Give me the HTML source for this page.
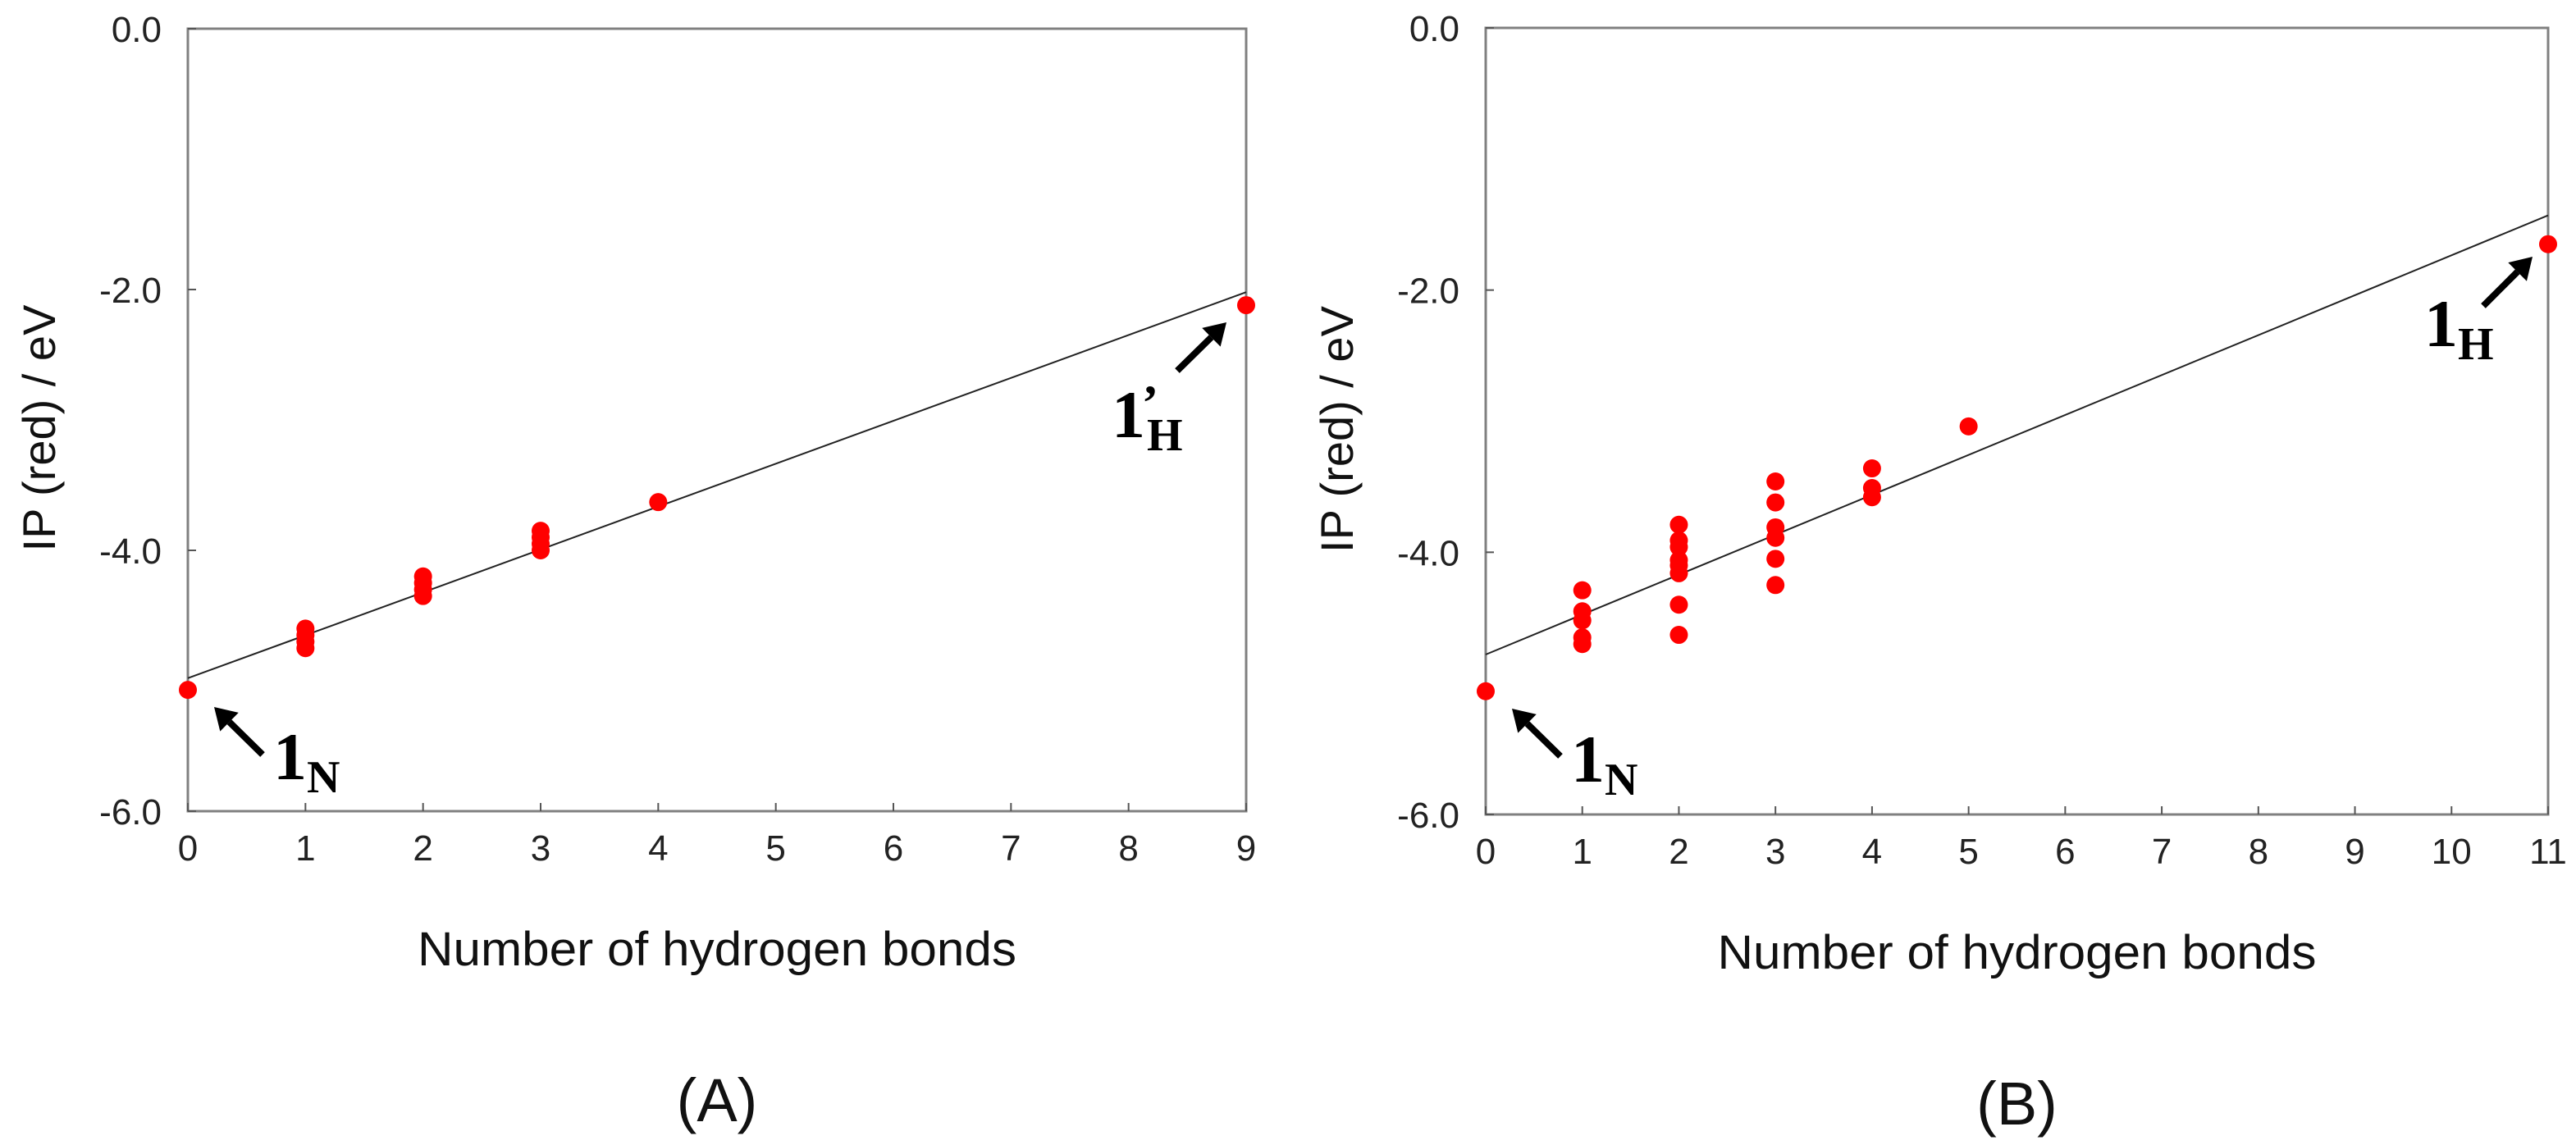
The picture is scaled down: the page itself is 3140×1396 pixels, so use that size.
<!DOCTYPE html>
<html><head><meta charset="utf-8">
<style>
html,body{margin:0;padding:0;background:#fff;}
svg{display:block;}
text{font-family:"Liberation Sans",sans-serif;}
.ser{font-family:"Liberation Serif",serif;font-weight:bold;}
</style></head>
<body>
<svg id="fig" width="3140" height="1396" viewBox="0 0 3140 1396" xmlns="http://www.w3.org/2000/svg"></svg>
<script>
// Panel A data
const aXTicks = [0,1,2,3,4,5,6,7,8,9];
const aYTicks = [0,-2,-4,-6];
const aYTickLabels = ["0.0","-2.0","-4.0","-6.0"];
const aX = [0,1,1,1,1,2,2,2,2,3,3,3,3,4,9];
const aY = [-5.07,-4.6,-4.65,-4.7,-4.75,-4.2,-4.25,-4.3,-4.35,-3.85,-3.9,-3.95,-4.0,-3.63,-2.12];
const aFitX = [0,9];
const aFitY = [-4.98,-2.02];
// Panel B data
const bXTicks = [0,1,2,3,4,5,6,7,8,9,10,11];
const bYTicks = [0,-2,-4,-6];
const bYTickLabels = ["0.0","-2.0","-4.0","-6.0"];
const bX = [0,1,1,1,1,1,2,2,2,2,2,2,2,2,3,3,3,3,3,3,4,4,4,5,11];
const bY = [-5.06,-4.29,-4.45,-4.52,-4.65,-4.7,-3.79,-3.91,-3.96,-4.06,-4.1,-4.16,-4.4,-4.63,-3.46,-3.62,-3.81,-3.89,-4.05,-4.25,-3.36,-3.51,-3.58,-3.04,-1.65];
const bFitX = [0,11];
const bFitY = [-4.78,-1.43];

const NS="http://www.w3.org/2000/svg";
const svg=document.getElementById('fig');
function mk(tag,attrs,parent,txt){const e=document.createElementNS(NS,tag);for(const k in attrs)e.setAttribute(k,attrs[k]);if(txt!==undefined)e.textContent=txt;(parent||svg).appendChild(e);return e;}

function panel(p){
  const g=mk('g',{});
  
  
  const sx=v=>p.x0+(v-p.xmin)/(p.xmax-p.xmin)*(p.x1-p.x0);
  const sy=v=>p.y0+(v-p.ymax)/(p.ymin-p.ymax)*(p.y1-p.y0);
  // frame
  const fr=mk('rect',{x:p.x0,y:p.y0,width:p.x1-p.x0,height:p.y1-p.y0,fill:'none',stroke:'#808080','stroke-width':3},g);
  
  
  // x ticks
  p.xt.forEach(v=>{
    const t=mk('line',{x1:sx(v),x2:sx(v),y1:p.y1,y2:p.y1-10,stroke:'#555','stroke-width':2},g);
    
    
    const l=mk('text',{x:sx(v),y:p.y1+60,'font-size':44,'text-anchor':'middle',fill:'#222'},g,String(v));
    
    
  });
  p.yt.forEach((v,i)=>{
    const t=mk('line',{x1:p.x0,x2:p.x0+10,y1:sy(v),y2:sy(v),stroke:'#555','stroke-width':2},g);
    
    
    const l=mk('text',{x:p.x0-32,y:sy(v)+16,'font-size':44,'text-anchor':'end',fill:'#222'},g,p.ytl[i]);
    
    
  });
  // fit line
  const fl=mk('line',{x1:sx(p.fx[0]),y1:sy(p.fy[0]),x2:sx(p.fx[1]),y2:sy(p.fy[1]),stroke:'#222','stroke-width':2},g);
  
  
  // points
  p.px.forEach((v,i)=>{
    const c=mk('circle',{cx:sx(v),cy:sy(p.py[i]),r:11,fill:'#f00'},g);
    
    
  });
  const xt=mk('text',{x:(p.x0+p.x1)/2,y:p.y1+188,'font-size':58,'text-anchor':'middle',fill:'#111',textLength:730,lengthAdjust:'spacingAndGlyphs'},g,'Number of hydrogen bonds');
  
  
  const yt=mk('text',{x:0,y:0,'font-size':56,'text-anchor':'middle',fill:'#111',transform:`translate(${p.x0-162},${(p.y0+p.y1)/2+10}) rotate(-90)`},g,'IP (red) / eV');
  
  
  const pl=mk('text',{x:(p.x0+p.x1)/2,y:p.y1+378,'font-size':74,'text-anchor':'middle',fill:'#111'},g,p.label);
  
  
  return {sx,sy,g};
}
function arrow(g,x1,y1,x2,y2){
  const dx=x2-x1,dy=y2-y1,L=Math.hypot(dx,dy),ux=dx/L,uy=dy/L;
  const hx=x2-ux*26,hy=y2-uy*26;
  const ln=mk('line',{x1:x1,y1:y1,x2:hx,y2:hy,stroke:'#000','stroke-width':8},g);
  
  
  const hd=mk('polygon',{points:`${x2},${y2} ${hx-uy*16},${hy+ux*16} ${hx+uy*16},${hy-ux*16}`,fill:'#000'},g);
  
  
}
function lab(g,x,y,sub,prime){
  const t=mk('text',{x:x,y:y,'font-size':82,class:'ser',fill:'#000'},g);
  
  
  mk('tspan',{},t,'1');
  if(prime){mk('tspan',{'font-size':60,dx:-4,dy:-22},t,'\u2019');mk('tspan',{'font-size':56,dx:-14,dy:38},t,sub);}
  else mk('tspan',{'font-size':56,dy:16},t,sub);
}
const A=panel({id:'a',x0:229,x1:1519,y0:35,y1:989,xmin:0,xmax:9,ymin:-6,ymax:0,xt:aXTicks,yt:aYTicks,ytl:aYTickLabels,px:aX,py:aY,fx:aFitX,fy:aFitY,label:'(A)'});
arrow(A.g,320,920,261,862); lab(A.g,333,950,'N',false);
arrow(A.g,1435,452,1495,393); lab(A.g,1355,533,'H',true);
const B=panel({id:'b',x0:1811,x1:3106,y0:34,y1:993,xmin:0,xmax:11,ymin:-6,ymax:0,xt:bXTicks,yt:bYTicks,ytl:bYTickLabels,px:bX,py:bY,fx:bFitX,fy:bFitY,label:'(B)'});
arrow(B.g,1902,922,1843,864); lab(B.g,1915,953,'N',false);
arrow(B.g,3027,373,3087,313); lab(B.g,2955,422,'H',false);
</script>
</body></html>
